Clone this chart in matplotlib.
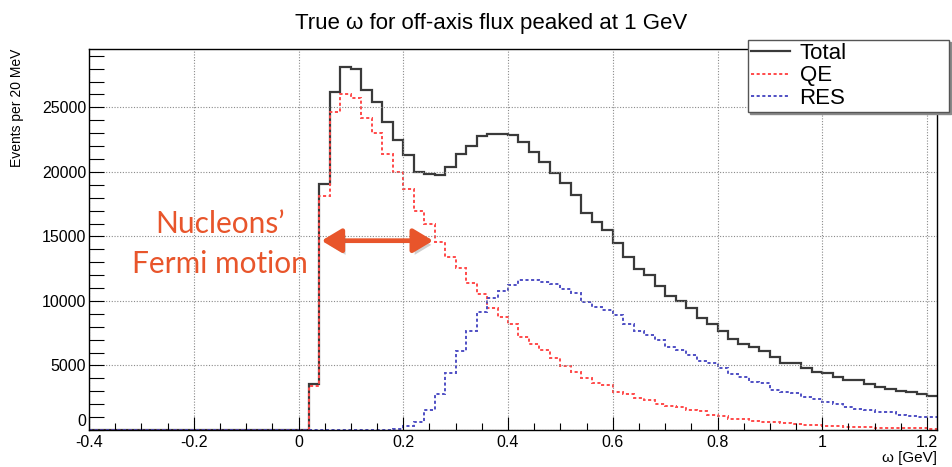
import numpy as np
import matplotlib
matplotlib.use("Agg")
import matplotlib.pyplot as plt
import matplotlib.patheffects as pe
from matplotlib.transforms import ScaledTranslation

# Histogram binning: 20 MeV bins from -0.4 to 1.22 GeV
bin_lo, bin_hi, bin_w = -0.4, 1.22, 0.02

# Bin contents (events per 20 MeV); leading empty bins are zero
total_start = 0.02
total_vals = [
    3570, 19070, 26180, 28120, 28010, 26360, 25400, 23850, 22480, 21340,
    19980, 19870, 19790, 20360, 21370, 22020, 22810, 22920, 22920, 22870,
    22330, 21550, 20800, 19900, 19120, 18220, 16850, 16150, 15500, 14470,
    13430, 12460, 11990, 11160, 10390, 10020, 9430, 8660, 8220, 7700,
    7030, 6640, 6410, 6150, 5680, 5220, 5170, 4780, 4520, 4400,
    4130, 3880, 3880, 3570, 3310, 3160, 3020, 2920, 2810, 2660,
]

qe_start = 0.02
qe_vals = [
    3410, 18160, 24630, 26020, 25760, 24160, 23000, 21400, 19980, 18680,
    17000, 15940, 14550, 13430, 12530, 11400, 10570, 9430, 8780, 8220,
    7230, 6670, 6200, 5560, 4990, 4520, 4000, 3670, 3490, 2970,
    2790, 2460, 2330, 2020, 1860, 1760, 1550, 1470, 1140, 1090,
    880, 830, 720, 640, 620, 520, 470, 390, 360, 310,
    290, 260, 230, 210, 180, 155, 155, 130, 130, 100,
]

res_start = 0.18
res_vals = [
    60, 290, 640, 1550, 2790, 4400, 6150, 7700, 9170, 10210,
    10800, 11240, 11630, 11630, 11450, 11320, 10930, 10650, 9950, 9560,
    9300, 8910, 8220, 7700, 7360, 6980, 6460, 6200, 5810, 5370,
    5170, 4780, 4340, 4130, 3740, 3670, 3100, 2970, 2850, 2530,
    2400, 2190, 2020, 1810, 1610, 1550, 1420, 1370, 1160, 1090,
    1030, 1030,
]

series_labels = ["Total", "QE", "RES"]
title_text = "True \u03c9 for off-axis flux peaked at 1 GeV"
xlabel_text = "\u03c9 [GeV]"
ylabel_text = "Events per 20 MeV"
note_lines = ["Nucleons\u2019", "Fermi motion"]
fermi_range = (0.044, 0.257)
fermi_level = 14670

n_bins = int(round((bin_hi - bin_lo) / bin_w))
edges = bin_lo + bin_w * np.arange(n_bins + 1)


def fill_bins(start, vals):
    h = np.zeros(n_bins)
    i0 = int(round((start - bin_lo) / bin_w))
    h[i0:i0 + len(vals)] = vals
    return h


h_total = fill_bins(total_start, total_vals)
h_qe = fill_bins(qe_start, qe_vals)
h_res = fill_bins(res_start, res_vals)

root_font = "Liberation Sans"
plt.rcParams["font.family"] = [root_font, "DejaVu Sans"]

W, H = 953, 467
fig = plt.figure(figsize=(W / 100, H / 100), dpi=100)
ax = fig.add_axes([89 / W, 1 - 430 / H, (937.5 - 89) / W, (430 - 49) / H])

ax.stairs(h_total, edges, color="#3a3a3a", lw=1.6, baseline=None, label=series_labels[0])
ax.stairs(h_qe, edges, color="#ff4a4a", lw=1.4, ls=(0, (1.6, 1.3)), baseline=None,
          label=series_labels[1])
ax.stairs(h_res, edges, color="#4f4fc4", lw=1.4, ls=(0, (1.6, 1.3)), baseline=None,
          label=series_labels[2])

ax.set_xlim(bin_lo, bin_hi)
ax.set_ylim(0, 1.05 * max(total_vals))

ax.set_xticks(np.arange(-0.4, 1.21, 0.2))
ax.set_xticks(np.arange(-0.4, 1.221, 0.05), minor=True)
ax.set_xticklabels(["-0.4", "-0.2", "0", "0.2", "0.4", "0.6", "0.8", "1", "1.2"])
ax.set_yticks(np.arange(0, 25001, 5000))
ax.set_yticks(np.arange(0, 29001, 1000), minor=True)

ax.tick_params(axis="both", which="both", direction="in", labelsize=11.5, color="black",
               top=False, right=False)
ax.tick_params(axis="x", which="major", length=9.5, width=0.8, pad=3.5)
ax.tick_params(axis="x", which="minor", length=5, width=0.8)
ax.tick_params(axis="y", which="major", length=11, width=0.8, pad=2)
ax.tick_params(axis="y", which="minor", length=11, width=0.8)

# raise the "0" label on the y axis so it clears the x-axis labels
zero_lbl = ax.yaxis.get_major_ticks()[0].label1
zero_lbl.set_transform(zero_lbl.get_transform() + ScaledTranslation(0, 0.1, fig.dpi_scale_trans))

ax.grid(True, which="major", color="#8a8a8a", lw=0.8, ls=(0, (1, 1.5)))
for s in ax.spines.values():
    s.set_linewidth(1.0)
    s.set_color("black")

ax.set_xlabel(xlabel_text, loc="right", fontsize=11)
ax.xaxis.set_label_coords(1.0, -(451 - 430) / (430 - 49))
ax.set_ylabel(ylabel_text, loc="top", fontsize=10)
ax.yaxis.set_label_coords(-(89 - 24) / (937.5 - 89), 1.0)

fig.text(491 / W, 1 - 23 / H, title_text, ha="center", va="center", fontsize=16)

leg = ax.legend(loc="upper left", bbox_to_anchor=(748 / W, 1 - 120 / H, 201 / W, 80 / H),
                bbox_transform=fig.transFigure, mode="expand", borderaxespad=0,
                fancybox=False, edgecolor="#555555", framealpha=1, fontsize=16,
                handlelength=1.75, handletextpad=0.45, labelspacing=0.08, borderpad=0.12,
                shadow={"color": "#8a8a8a", "alpha": 1, "ox": 1.5, "oy": -1.5})
leg.get_frame().set_linewidth(1.0)

# Fermi-motion annotation
accent = "#e8552b"
note_font = ["Lato", "DejaVu Sans"]
ax.text(-0.150, 15970, note_lines[0], color=accent, fontsize=21.5, family=note_font,
        ha="center", va="center")
ax.text(-0.150, 12870, note_lines[1], color=accent, fontsize=21.5, family=note_font,
        ha="center", va="center")
arr = ax.annotate("", xy=(fermi_range[1], fermi_level), xytext=(fermi_range[0], fermi_level),
                  arrowprops=dict(arrowstyle="<|-|>,head_length=0.6,head_width=0.36",
                                  mutation_scale=20, color=accent, lw=3.4,
                                  shrinkA=0, shrinkB=0))
arr.arrow_patch.set_path_effects([
    pe.SimplePatchShadow(offset=(2, -3), shadow_rgbFace="#777777", alpha=0.35),
    pe.Normal(),
])

fig.savefig("out.png", dpi=100)
